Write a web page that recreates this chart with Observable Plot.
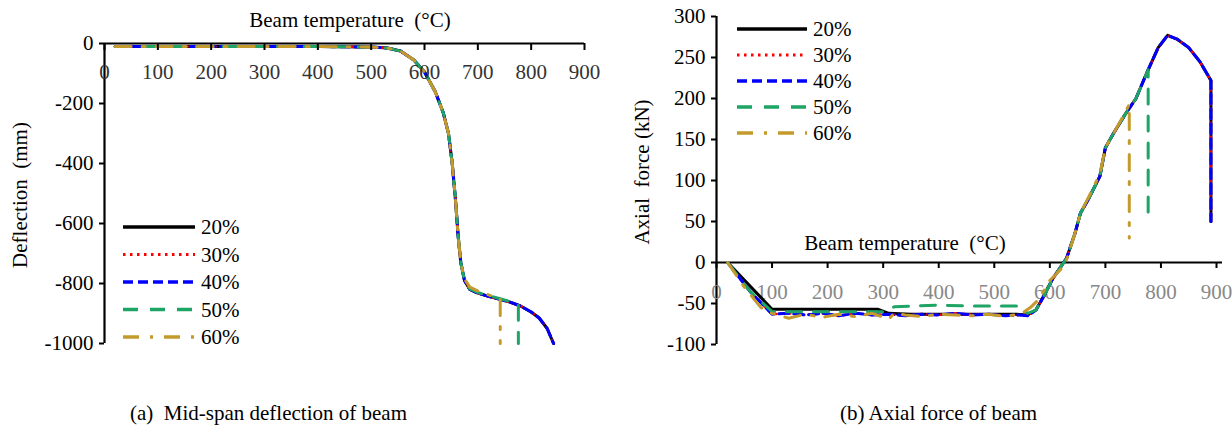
<!DOCTYPE html>
<html><head><meta charset="utf-8">
<script src="https://cdn.jsdelivr.net/npm/d3@7"></script>
<script src="https://cdn.jsdelivr.net/npm/@observablehq/plot@0.6"></script>
<style>
body{margin:0;background:#fff;}
#wrap{position:relative;width:1232px;height:448px;font-family:"Liberation Serif","Times New Roman",serif;color:#000;overflow:hidden;background:#fff}
.lbl{position:absolute;font-size:21px;white-space:pre;line-height:1;transform:translate(-50%,-50%)}
.rot{transform:translate(-50%,-50%) rotate(-90deg)}
.capl{position:absolute;font-size:21px;white-space:pre;line-height:1;transform:translate(0,-50%)}
</style></head><body><div id="wrap"></div>
<script>
// ---------- categories / labels ----------
const seriesNames = ["20%", "30%", "40%", "50%", "60%"];
const xTicks = [0, 100, 200, 300, 400, 500, 600, 700, 800, 900];
const defYTicks = [0, -200, -400, -600, -800, -1000];
const axYTicks = [300, 250, 200, 150, 100, 50, 0, -50, -100];
const xTitle = "Beam temperature  (°C)";
const defYTitle = "Deflection  (mm)";
const axYTitle = "Axial  force (kN)";
const captionA = "(a)  Mid-span deflection of beam";
const captionB = "(b) Axial force of beam";

// ---------- (a) mid-span deflection (mm) vs beam temperature (°C) ----------
const defT20 = [20, 100, 200, 300, 400, 500, 530, 555, 580, 600, 620, 635, 645, 652, 658, 663, 668, 675, 685, 700, 720, 740, 760, 780, 800, 815, 830, 842];
const defD20 = [-10, -10, -10, -10, -10, -12, -15, -25, -55, -95, -160, -230, -300, -400, -520, -640, -730, -790, -820, -832, -843, -852, -862, -875, -895, -915, -950, -1000];
const defT30 = [20, 100, 200, 300, 400, 500, 530, 555, 580, 600, 620, 635, 645, 652, 658, 663, 668, 675, 685, 700, 720, 740, 760, 780, 800, 815, 830, 842];
const defD30 = [-10, -10, -10, -10, -10, -12, -15, -25, -55, -95, -160, -230, -300, -400, -520, -640, -730, -790, -820, -832, -843, -852, -862, -875, -895, -915, -950, -1000];
const defT40 = [20, 100, 200, 300, 400, 500, 530, 555, 580, 600, 620, 635, 645, 652, 658, 663, 668, 675, 685, 700, 720, 740, 760, 780, 800, 815, 830, 842];
const defD40 = [-10, -10, -10, -10, -10, -12, -15, -25, -55, -95, -160, -230, -300, -400, -520, -640, -730, -790, -820, -832, -843, -852, -862, -875, -895, -915, -950, -1000];
const defT50 = [20, 100, 200, 300, 400, 500, 530, 555, 580, 600, 620, 635, 645, 652, 658, 663, 668, 675, 685, 700, 720, 740, 760, 776, 776];
const defD50 = [-10, -10, -10, -10, -10, -12, -15, -25, -55, -95, -160, -230, -300, -400, -520, -640, -730, -790, -818, -830, -840, -850, -860, -870, -1000];
const defT60 = [20, 100, 200, 300, 400, 500, 530, 555, 580, 600, 620, 635, 645, 652, 658, 663, 668, 675, 685, 700, 720, 742, 742];
const defD60 = [-10, -10, -10, -10, -10, -12, -15, -25, -55, -95, -160, -230, -300, -400, -520, -640, -730, -785, -812, -825, -838, -850, -1000];

// ---------- (b) axial force (kN) vs beam temperature (°C) ----------
const axT20 = [20, 100, 150, 200, 250, 290, 310, 350, 400, 450, 500, 540, 560, 575, 590, 605, 620, 630, 645, 655, 670, 690, 700, 715, 735, 755, 775, 795, 812, 830, 850, 870, 890, 890];
const axF20 = [0, -57, -57, -57, -57, -57, -62, -63, -63, -63, -63, -63, -64, -58, -40, -20, -5, 5, 35, 60, 78, 105, 140, 158, 180, 200, 232, 262, 277, 272, 262, 245, 222, 50];
const axT30 = [20, 60, 100, 130, 160, 190, 220, 250, 280, 310, 340, 370, 400, 430, 460, 490, 520, 545, 560, 575, 590, 605, 620, 630, 645, 655, 670, 690, 700, 715, 735, 755, 775, 795, 812, 830, 850, 870, 890, 890];
const axF30 = [0, -35, -63, -62, -64, -62, -65, -62, -64, -63, -65, -63, -64, -62, -64, -63, -65, -64, -65, -58, -40, -20, -5, 5, 35, 60, 78, 105, 140, 158, 180, 200, 232, 262, 277, 272, 262, 245, 222, 50];
const axT40 = [20, 60, 100, 130, 160, 190, 220, 250, 280, 310, 340, 370, 400, 430, 460, 490, 520, 545, 560, 575, 590, 605, 620, 630, 645, 655, 670, 690, 700, 715, 735, 755, 775, 795, 812, 830, 850, 870, 890, 890];
const axF40 = [0, -35, -63, -62, -64, -62, -65, -62, -64, -63, -65, -63, -64, -62, -64, -63, -65, -64, -65, -58, -40, -20, -5, 5, 35, 60, 78, 105, 140, 158, 180, 200, 232, 262, 277, 272, 262, 245, 222, 50];
const axT50 = [20, 60, 100, 150, 200, 250, 300, 320, 360, 400, 450, 500, 540, 560, 575, 590, 605, 620, 630, 645, 655, 670, 690, 700, 715, 735, 755, 777, 777];
const axF50 = [0, -35, -60, -60, -60, -60, -60, -54, -53, -52, -53, -53, -53, -62, -58, -40, -20, -5, 5, 35, 60, 78, 105, 140, 158, 180, 200, 235, 50];
const axT60 = [20, 50, 80, 100, 130, 160, 190, 220, 250, 280, 310, 320, 340, 370, 400, 430, 460, 490, 520, 550, 565, 580, 600, 620, 630, 645, 655, 670, 690, 700, 715, 735, 743, 743];
const axF60 = [0, -30, -55, -62, -68, -63, -67, -63, -66, -62, -69, -62, -64, -66, -63, -64, -65, -63, -66, -62, -55, -45, -22, -8, 3, 35, 60, 80, 108, 140, 158, 182, 193, 30];

// ---------- styles (kept apart from data) ----------
const seriesStyle = {
  "20%": {stroke: "#000000", width: 3, dash: null},
  "30%": {stroke: "#ff0000", width: 2.6, dash: "2.5,4.5"},
  "40%": {stroke: "#0000ff", width: 3, dash: "10,5"},
  "50%": {stroke: "#1ea464", width: 3, dash: "15,12"},
  "60%": {stroke: "#c49a2c", width: 3, dash: "16,11,3,11"}
};
const FONT = "'Liberation Serif', 'Times New Roman', serif";
const FS = 21;

function rows(T, V, s) { return T.map((t, i) => ({t, v: V[i], s})); }
const defSeries = [[defT20, defD20], [defT30, defD30], [defT40, defD40], [defT50, defD50], [defT60, defD60]].map((p, k) => rows(p[0], p[1], seriesNames[k]));
const axSeries = [[axT20, axF20], [axT30, axF30], [axT40, axF40], [axT50, axF50], [axT60, axF60]].map((p, k) => rows(p[0], p[1], seriesNames[k]));

function lineMarks(series) {
  return series.map(d => {
    const st = seriesStyle[d[0].s];
    const o = {x: "t", y: "v", stroke: st.stroke, strokeWidth: st.width, curve: "linear"};
    if (st.dash) o.strokeDasharray = st.dash;
    return Plot.line(d, o);
  });
}

const wrap = document.getElementById("wrap");

// ---------- chart (a) ----------
const chartA = Plot.plot({
  width: 620, height: 360,
  marginLeft: 104, marginRight: 36, marginTop: 43, marginBottom: 17,
  x: {domain: [0, 900], axis: null},
  y: {domain: [-1000, 0], axis: null},
  style: {fontFamily: FONT, fontSize: FS + "px", background: "transparent", overflow: "visible", color: "#000"},
  marks: [
    ...lineMarks(defSeries),
    Plot.ruleY([0], {strokeWidth: 2.2}),
    Plot.ruleX([0], {strokeWidth: 2.2}),
    Plot.ruleX(xTicks, {x: d => d, y1: () => 0, y2: () => 0, insetBottom: -7, strokeWidth: 2}),
    Plot.text(xTicks, {x: d => d, y: () => 0, dy: 29, text: d => String(d), fill: "#333", fontSize: FS}),
    Plot.axisY({ticks: defYTicks, tickSize: 5, tickPadding: 6, tickFormat: d => String(d), label: null, strokeWidth: 2, fontSize: FS})
  ]
});
chartA.style.position = "absolute"; chartA.style.left = "0px"; chartA.style.top = "0px";
wrap.appendChild(chartA);

// ---------- chart (b) ----------
const chartB = Plot.plot({
  width: 612, height: 360,
  marginLeft: 96, marginRight: 16, marginTop: 16, marginBottom: 16,
  x: {domain: [0, 900], axis: null},
  y: {domain: [-100, 300], axis: null},
  style: {fontFamily: FONT, fontSize: FS + "px", background: "transparent", overflow: "visible", color: "#000"},
  marks: [
    Plot.ruleY([0], {strokeWidth: 2.2, insetRight: -6}),
    Plot.ruleX([0], {strokeWidth: 2.2}),
    Plot.ruleX(xTicks, {x: d => d, y1: () => 0, y2: () => 0, insetBottom: -6, strokeWidth: 2}),
    Plot.text(xTicks, {x: d => d, y: () => 0, dy: 30, text: d => String(d), fill: "#888", fontSize: FS}),
    Plot.axisY({ticks: axYTicks, tickSize: 5, tickPadding: 6, tickFormat: d => String(d), label: null, strokeWidth: 2, fontSize: FS}),
    ...lineMarks(axSeries)
  ]
});
chartB.style.position = "absolute"; chartB.style.left = "620px"; chartB.style.top = "0px";
wrap.appendChild(chartB);

// ---------- text labels ----------
function addLabel(txt, x, y, cls) {
  const d = document.createElement("div");
  d.className = cls || "lbl";
  d.textContent = txt;
  d.style.left = x + "px"; d.style.top = y + "px";
  wrap.appendChild(d);
}
addLabel(xTitle, 350, 20);
addLabel(defYTitle, 20, 195, "lbl rot");
addLabel(axYTitle, 642, 172, "lbl rot");
addLabel(xTitle, 905, 243);
addLabel(captionA, 130, 413, "capl");
addLabel(captionB, 840, 413, "capl");

// ---------- legends ----------
function legend(x0, y0, dy, lineLen, labelGap) {
  const svg = d3.create("svg").attr("width", lineLen + labelGap + 60).attr("height", dy * 5 + 20)
    .style("position", "absolute").style("left", (x0) + "px").style("top", (y0 - 12) + "px")
    .style("overflow", "visible");
  seriesNames.forEach((n, i) => {
    const st = seriesStyle[n];
    const y = 12 + i * dy;
    const l = svg.append("line").attr("x1", 0).attr("x2", lineLen).attr("y1", y).attr("y2", y)
      .attr("stroke", st.stroke).attr("stroke-width", st.width + 0.6);
    if (st.dash) l.attr("stroke-dasharray", st.dash);
    svg.append("text").attr("x", lineLen + labelGap).attr("y", y).attr("dy", "0.35em")
      .style("font-family", FONT).attr("font-size", FS).attr("fill", "#000").text(n);
  });
  wrap.appendChild(svg.node());
}
legend(123, 227, 27.5, 72, 6);
legend(737, 29, 26, 70, 6);
</script></body></html>
